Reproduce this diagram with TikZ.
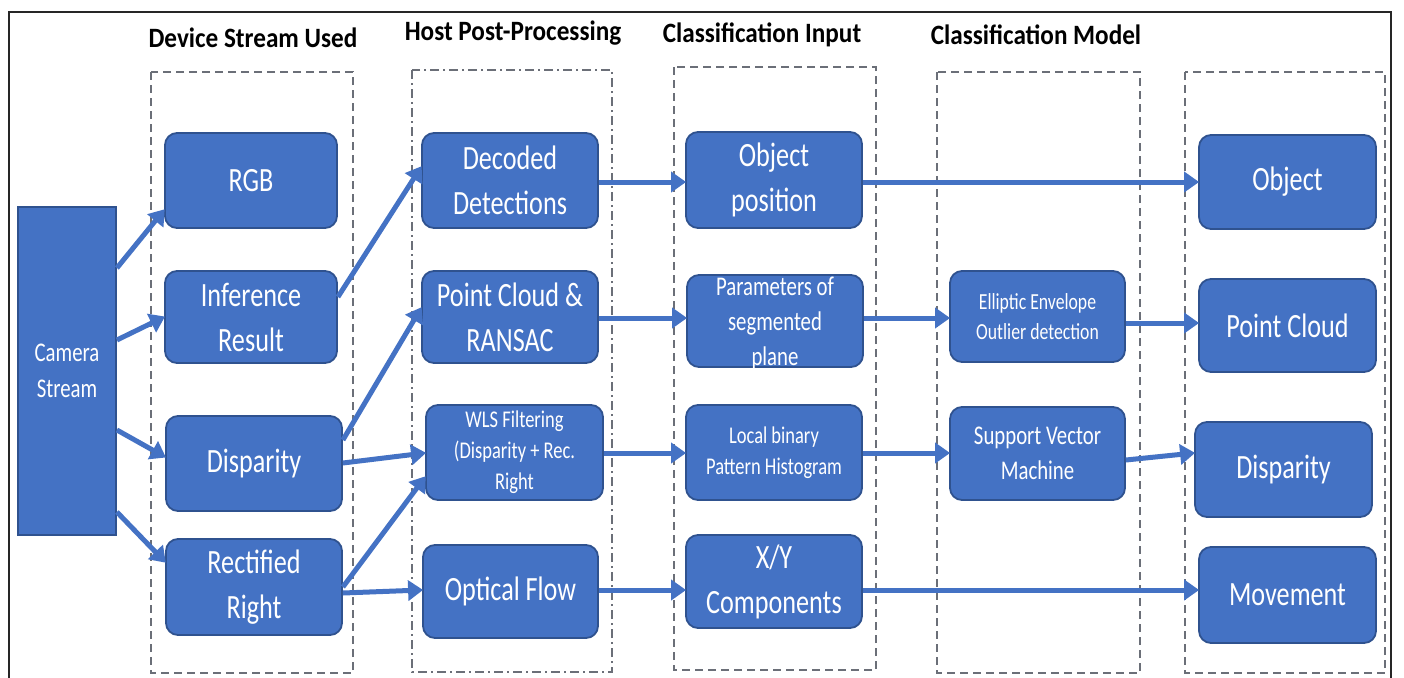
\documentclass[tikz,border=0pt]{standalone}
\usepackage{fontspec}
\setmainfont{Carlito}
\newfontfamily\hdrfont[FakeStretch=0.9]{Carlito}
\newfontfamily\bxfont[FakeStretch=0.77]{Carlito}
\usetikzlibrary{arrows.meta}
\definecolor{boxblue}{HTML}{4472C4}
\definecolor{boxedge}{HTML}{2F528F}
\definecolor{colgray}{HTML}{6B6F78}
\begin{document}
\begin{tikzpicture}[x=1pt,y=-1pt,
  box/.style={rounded corners=12pt, fill=boxblue, draw=boxedge, line width=1.8pt,
    text=white, align=center, inner sep=0pt, font=\bxfont\fontsize{34}{45}\selectfont},
  smalltxt/.style={font=\bxfont\fontsize{24}{31}\selectfont},
  midtxt/.style={font=\bxfont\fontsize{27}{35}\selectfont},
  colbox/.style={draw=colgray, line width=1.3pt, dash pattern=on 8pt off 5pt},
  colboxdd/.style={draw=colgray, line width=1.3pt, dash pattern=on 9pt off 4pt on 2pt off 4pt},
  hdr/.style={font=\hdrfont\bfseries\fontsize{28}{34}\selectfont, text=black, inner sep=0pt},
  arr/.style={draw=boxblue, line width=5pt, -{Triangle[length=15pt,width=20pt]}, shorten >=-1pt}
]
\useasboundingbox (0,0) rectangle (1404,677);
% outer frame
\draw[line width=1.6pt, draw=black!85] (9,690) -- (9,12) -- (1391,12) -- (1391,690);
% headers
\node[hdr] (h1) at (253,38) {Device Stream Used};
\node[hdr] (h2) at (513,33) {Host Post-Processing};
\node[hdr] (h3) at (762,35) {Classification Input};
\node[hdr] (h4) at (1036,35) {Classification Model};
% columns
\draw[colbox] (151,72) rectangle (353,673);
\draw[colboxdd] (412,70) rectangle (612,672);
\draw[colbox] (674,67) rectangle (876,670);
\draw[colbox] (937,72) rectangle (1140,673);
\draw[colbox] (1185,72) rectangle (1385,673);
% camera
\node[box, rounded corners=0pt, minimum width=98pt, minimum height=328pt, font=\bxfont\fontsize{27}{36}\selectfont] (cam) at (67,371) {Camera\\Stream};
% column 1
\node[box, minimum width=172pt, minimum height=95pt] (rgb) at (251,180.5) {RGB};
\node[box, minimum width=172pt, minimum height=92pt] (inf) at (251,317) {Inference\\Result};
\node[box, minimum width=176pt, minimum height=95pt] (disl) at (254,463.5) {Disparity};
\node[box, minimum width=176pt, minimum height=96pt] (rect) at (254,587) {Rectified\\Right};
% column 2
\node[box, minimum width=176pt, minimum height=95pt] (dec) at (510,180.5) {Decoded\\Detections};
\node[box, minimum width=176pt, minimum height=92pt] (ran) at (510,317) {Point Cloud \&\\RANSAC};
\node[box, smalltxt, minimum width=177pt, minimum height=95pt] (wls) at (514.5,452.5) {WLS Filtering\\(Disparity + Rec.\\Right};
\node[box, minimum width=175pt, minimum height=93pt] (opt) at (510.5,591.5) {Optical Flow};
% column 3
\node[box, minimum width=176pt, minimum height=96pt] (objp) at (774,180) {Object\\position};
\node[box, midtxt, minimum width=176pt, minimum height=92pt, text depth=0pt] (par) at (775,321) {Parameters of\\segmented\\plane};
\node[box, smalltxt, minimum width=176pt, minimum height=95pt] (lbp) at (774,452.5) {Local binary\\Pattern Histogram};
\node[box, minimum width=176pt, minimum height=93pt] (xy) at (774,581.5) {X/Y\\Components};
% column 4
\node[box, font=\bxfont\fontsize{23}{30}\selectfont, minimum width=175pt, minimum height=91pt] (ell) at (1037.5,316.5) {Elliptic Envelope\\Outlier detection};
\node[box, midtxt, minimum width=175pt, minimum height=93pt] (svm) at (1037.5,453.5) {Support Vector\\Machine};
% column 5
\node[box, minimum width=177pt, minimum height=94pt] (obj) at (1287.5,182) {Object};
\node[box, minimum width=177pt, minimum height=93pt] (pc) at (1287.5,325.5) {Point Cloud};
\node[box, minimum width=177pt, minimum height=95pt] (disr) at (1283.5,469.5) {Disparity};
\node[box, minimum width=177pt, minimum height=96pt] (mov) at (1287.5,595) {Movement};
% arrows
\draw[arr] (cam.east |- 0,268) -- (rgb.west |- 0,210);
\draw[arr] (cam.east |- 0,340) -- (inf.west |- 0,317);
\draw[arr] (cam.east |- 0,430) -- (disl.west |- 0,457);
\draw[arr] (cam.east |- 0,512) -- (rect.west |- 0,562);
\draw[arr] (inf.east |- 0,297) -- (dec.west |- 0,167);
\draw[arr] (disl.east |- 0,440) -- (ran.west |- 0,308);
\draw[arr] (disl.east |- 0,463) -- (wls.west |- 0,453);
\draw[arr] (rect.east |- 0,587) -- (wls.west |- 0,477);
\draw[arr] (rect.east |- 0,593) -- (opt.west |- 0,590);
\draw[arr] (dec.east |- 0,182) -- (objp.west |- 0,182);
\draw[arr] (ran.east |- 0,318) -- (par.west |- 0,318);
\draw[arr] (wls.east |- 0,453) -- (lbp.west |- 0,453);
\draw[arr] (opt.east |- 0,590) -- (xy.west |- 0,590);
\draw[arr] (objp.east |- 0,182) -- (obj.west |- 0,182);
\draw[arr] (par.east |- 0,318) -- (ell.west |- 0,318);
\draw[arr] (ell.east |- 0,323) -- (pc.west |- 0,323);
\draw[arr] (lbp.east |- 0,453) -- (svm.west |- 0,453);
\draw[arr] (svm.east |- 0,460) -- (disr.west |- 0,453);
\draw[arr] (xy.east |- 0,590) -- (mov.west |- 0,590);
\end{tikzpicture}
\end{document}
